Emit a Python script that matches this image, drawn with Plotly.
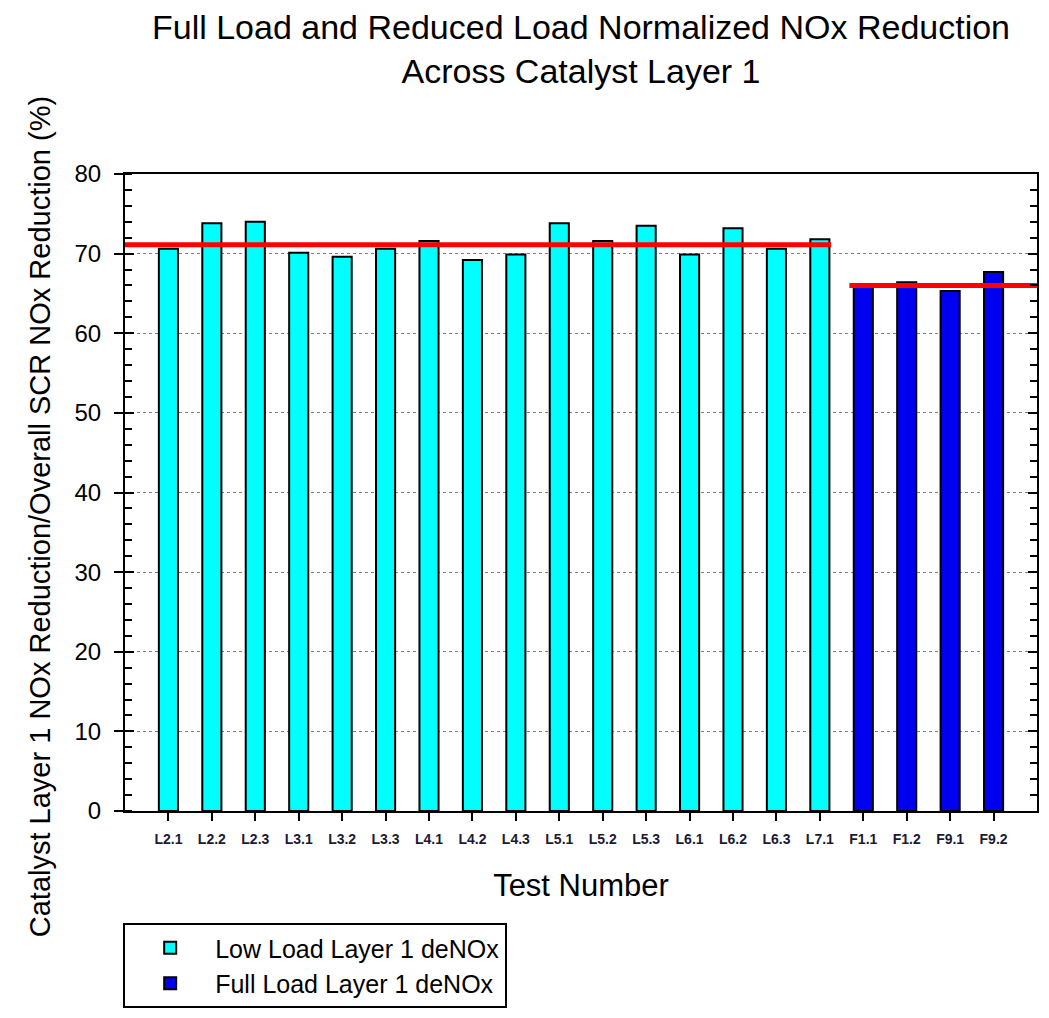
import plotly.graph_objects as go

# ---- data ----
categories = ["L2.1", "L2.2", "L2.3", "L3.1", "L3.2", "L3.3", "L4.1", "L4.2", "L4.3",
              "L5.1", "L5.2", "L5.3", "L6.1", "L6.2", "L6.3", "L7.1",
              "F1.1", "F1.2", "F9.1", "F9.2"]
low_load_values = [70.6, 73.8, 74.0, 70.1, 69.6, 70.6, 71.6, 69.2, 69.9,
                   73.8, 71.6, 73.5, 69.9, 73.2, 70.6, 71.8]
full_load_values = [65.9, 66.4, 65.3, 67.7]
low_load_avg = 71.1
full_load_avg = 66.0
y_ticks = [0, 10, 20, 30, 40, 50, 60, 70, 80]

n_low = len(low_load_values)
x_low = list(range(n_low))
x_full = list(range(n_low, n_low + len(full_load_values)))
x_all = list(range(len(categories)))

FONT = "Liberation Sans, Arial, sans-serif"

fig = go.Figure()

fig.add_trace(go.Bar(
    x=x_low, y=low_load_values, name="Low Load Layer 1 deNOx",
    marker=dict(color="#00FFFF", line=dict(color="black", width=2)),
    width=0.44,
))
fig.add_trace(go.Bar(
    x=x_full, y=full_load_values, name="Full Load Layer 1 deNOx",
    marker=dict(color="#0000F0", line=dict(color="black", width=2)),
    width=0.44,
))

# average lines (drawn on the overlay axes so those axes' ticks render)
fig.add_trace(go.Scatter(
    x=[x_low[0] - 1, x_low[-1] + 0.26], y=[low_load_avg, low_load_avg],
    mode="lines", line=dict(color="#FF0000", width=5), yaxis="y3",
    showlegend=False, hoverinfo="skip", cliponaxis=False,
))
fig.add_trace(go.Scatter(
    x=[x_full[0] - 0.32, x_full[-1] + 1], y=[full_load_avg, full_load_avg],
    mode="lines", line=dict(color="#FF0000", width=5), yaxis="y2",
    showlegend=False, hoverinfo="skip", cliponaxis=False,
))

fig.update_layout(
    width=1049, height=1018,
    paper_bgcolor="white", plot_bgcolor="white",
    margin=dict(l=125, r=10, t=174, b=207),
    barmode="overlay",
    font=dict(family=FONT, color="black"),
    title=dict(
        text="Full Load and Reduced Load Normalized NOx Reduction<br>Across Catalyst Layer 1",
        x=0.5, xref="paper", xanchor="center",
        y=0.962, yref="container", yanchor="top",
        font=dict(size=34, family=FONT, color="black"),
    ),
    xaxis=dict(
        range=[-1, 20],
        tickmode="array", tickvals=x_all, ticktext=categories,
        ticks="outside", ticklen=8, tickwidth=2, tickcolor="black",
        tickfont=dict(size=14, color="#1a1a33", family=FONT, weight="bold"),
        ticklabelstandoff=6,
        showline=True, linecolor="black", linewidth=2, mirror=True,
        showgrid=False, zeroline=False,
        title=dict(text="Test Number", font=dict(size=31, family=FONT, color="black"), standoff=29),
    ),
    yaxis=dict(
        range=[0, 80],
        tickmode="array", tickvals=y_ticks,
        ticks="outside", ticklen=9, tickwidth=2, tickcolor="black",
        tickfont=dict(size=24, family=FONT, color="black"),
        ticklabelstandoff=8,
        showline=True, linecolor="black", linewidth=2, mirror=True,
        showgrid=True, gridcolor="#808080", griddash="dot", gridwidth=1,
        zeroline=False,
        minor=dict(dtick=2, ticks="inside", ticklen=7, tickwidth=2, tickcolor="black", showgrid=False),
    ),
    yaxis2=dict(
        overlaying="y", side="right", anchor="x",
        range=[0, 80], tickmode="array", tickvals=y_ticks,
        ticks="inside", ticklen=9, tickwidth=2, tickcolor="black",
        showticklabels=False, showgrid=False, zeroline=False, showline=False,
        minor=dict(dtick=2, ticks="inside", ticklen=7, tickwidth=2, tickcolor="black"),
    ),
    yaxis3=dict(
        overlaying="y", side="left", anchor="x",
        range=[0, 80], tickmode="array", tickvals=y_ticks,
        ticks="inside", ticklen=9, tickwidth=2, tickcolor="black",
        showticklabels=False, showgrid=False, zeroline=False, showline=False,
    ),
    legend=dict(
        x=-0.002, y=-0.176, xanchor="left", yanchor="top",
        bordercolor="black", borderwidth=2, bgcolor="white",
        font=dict(size=25, family=FONT, color="black"),
        itemwidth=80,
    ),
    showlegend=True,
    annotations=[dict(
        text="Catalyst Layer 1 NOx Reduction/Overall SCR NOx Reduction (%)",
        textangle=-90, xref="paper", yref="paper",
        x=-0.093, y=0.4615, xanchor="center", yanchor="middle",
        showarrow=False, font=dict(size=29, family=FONT, color="black"),
    )],
)

fig.write_html("out.html")
